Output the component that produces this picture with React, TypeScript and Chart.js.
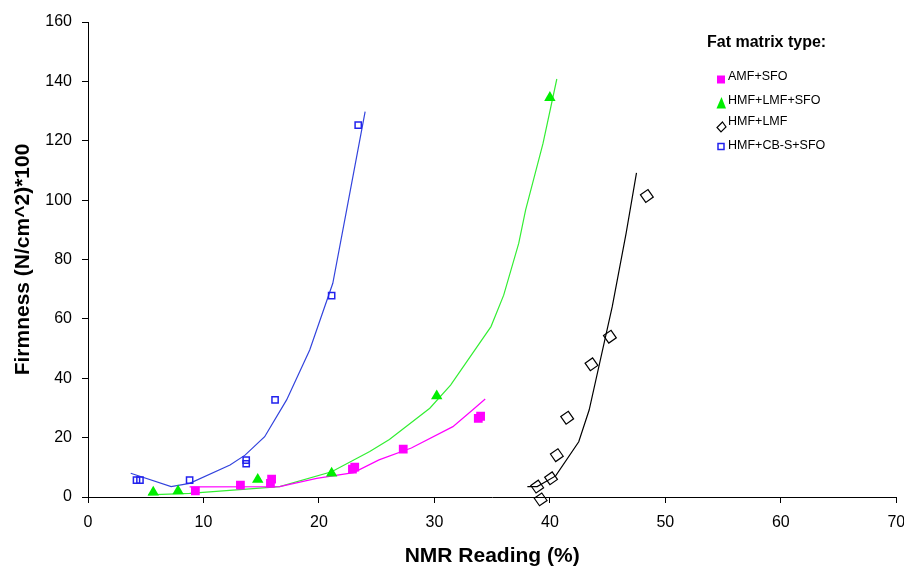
import React, { useEffect, useRef } from 'react';
import { Chart, registerables } from 'chart.js';
Chart.register(...registerables);

// ---- Data ----
const seriesNames = ['AMF+SFO', 'HMF+LMF+SFO', 'HMF+LMF', 'HMF+CB-S+SFO'];

const amfX = [9.3, 13.2, 15.8, 15.9, 22.9, 23.1, 27.3, 33.8, 34.0];
const amfY = [2.1, 4.0, 4.6, 6.0, 9.4, 10.1, 16.1, 26.5, 27.2];

const hlsX = [5.65, 7.8, 14.7, 21.1, 30.2, 40.0];
const hlsY = [1.6, 2.0, 5.9, 8.0, 34.0, 134.5];

const hlX = [38.9, 39.2, 40.1, 40.6, 41.5, 43.6, 45.2, 48.4];
const hlY = [3.5, -0.8, 6.3, 14.1, 26.7, 44.7, 54.0, 101.4];

const cbX = [4.2, 4.5, 8.8, 13.7, 13.7, 16.2, 21.1, 23.4];
const cbY = [5.7, 5.7, 5.7, 11.2, 12.4, 32.7, 67.8, 125.3];

// trend lines
const amfTrendX = [8.8, 16.6, 19.8, 23.0, 25.2, 28.0, 31.6, 33.3, 34.4];
const amfTrendY = [3.4, 3.5, 6.3, 8.2, 12.5, 16.5, 23.7, 29.3, 33.0];

const hlsTrendX = [5.2, 8.8, 16.6, 21.1, 24.4, 26.1, 29.6, 31.4, 34.9, 36.0, 37.3, 37.9, 39.4, 40.6];
const hlsTrendY = [0.7, 1.2, 3.5, 8.5, 15.3, 19.4, 29.9, 37.7, 57.4, 68.0, 85.4, 96.7, 119.0, 140.8];

const hlTrendX = [38.05, 38.9, 40.5, 42.5, 43.4, 45.4, 46.6, 47.5];
const hlTrendY = [3.5, 3.5, 7.1, 18.6, 29.3, 64.1, 88.8, 109.2];

const cbTrendX = [3.7, 7.2, 8.8, 12.3, 13.6, 15.3, 17.2, 19.2, 21.2, 22.4, 24.0];
const cbTrendY = [8.0, 3.5, 4.6, 10.8, 14.1, 20.3, 32.7, 49.5, 72.0, 96.7, 129.8];

const xMin = 0, xMax = 70, xStep = 10;
const yMin = 0, yMax = 160, yStep = 20;

const FONT = "'Liberation Sans', Arial, sans-serif";
const C_MAG = '#ff00ff';
const C_GREEN = '#00ee00';
const C_GREEN_LINE = '#33ee33';
const C_BLACK = '#000000';
const C_BLUE = '#2222ee';
const C_BLUE_LINE = '#3344dd';

const pts = (xs: number[], ys: number[]) => xs.map((x, i) => ({ x, y: ys[i] }));

const legendPlugin = {
  id: 'customLegend',
  afterDraw(chart: any) {
    const ctx = chart.ctx;
    ctx.save();
    ctx.fillStyle = '#000';
    ctx.font = `bold 16px ${FONT}`;
    ctx.textBaseline = 'middle';
    ctx.textAlign = 'left';
    ctx.fillText('Fat matrix type:', 707, 43);
    ctx.font = `12.5px ${FONT}`;
    const rows = [77, 101, 122, 146];
    const markerY = [79.5, 103.5, 127, 146.5];
    const mx = 721;
    rows.forEach((ry, i) => {
      ctx.fillStyle = '#000';
      ctx.fillText(seriesNames[i], 728, ry);
      const my = markerY[i];
      ctx.beginPath();
      if (i === 0) {
        ctx.fillStyle = C_MAG;
        ctx.fillRect(mx - 4, my - 4, 8, 8);
      } else if (i === 1) {
        ctx.fillStyle = C_GREEN;
        ctx.moveTo(mx + 0.5, my - 6.5);
        ctx.lineTo(mx + 5, my + 5);
        ctx.lineTo(mx - 4.5, my + 5);
        ctx.closePath();
        ctx.fill();
      } else if (i === 2) {
        ctx.strokeStyle = C_BLACK;
        ctx.lineWidth = 1.2;
        ctx.moveTo(mx + 1.5, my - 5);
        ctx.lineTo(mx + 5, my);
        ctx.lineTo(mx, my + 5);
        ctx.lineTo(mx - 4, my + 0.5);
        ctx.closePath();
        ctx.stroke();
      } else {
        ctx.strokeStyle = C_BLUE;
        ctx.lineWidth = 1.5;
        ctx.strokeRect(mx - 3, my - 3, 6, 6);
      }
    });
    ctx.restore();
  },
};

export default function App() {
  const ref = useRef<HTMLCanvasElement>(null);
  useEffect(() => {
    const lineDs = (data: any[], color: string) => ({
      data,
      showLine: true,
      borderColor: color,
      borderWidth: 1.2,
      pointRadius: 0,
      fill: false,
      tension: 0,
      order: 2,
    });
    const chart = new Chart(ref.current!, {
      type: 'scatter',
      data: {
        datasets: [
          lineDs(pts(amfTrendX, amfTrendY), C_MAG),
          lineDs(pts(hlsTrendX, hlsTrendY), C_GREEN_LINE),
          lineDs(pts(hlTrendX, hlTrendY), C_BLACK),
          lineDs(pts(cbTrendX, cbTrendY), C_BLUE_LINE),
          {
            label: seriesNames[0],
            data: pts(amfX, amfY),
            pointStyle: 'rect',
            pointRadius: 6.2,
            backgroundColor: C_MAG,
            borderColor: C_MAG,
            borderWidth: 0,
            order: 1,
          },
          {
            label: seriesNames[1],
            data: pts(hlsX, hlsY),
            pointStyle: 'triangle',
            pointRadius: 6.6,
            backgroundColor: C_GREEN,
            borderColor: C_GREEN,
            borderWidth: 0,
            order: 1,
          },
          {
            label: seriesNames[2],
            data: pts(hlX, hlY),
            pointStyle: 'rectRot',
            pointRadius: 6.5,
            pointRotation: 10,
            backgroundColor: 'rgba(0,0,0,0)',
            borderColor: C_BLACK,
            borderWidth: 1.2,
            clip: false,
            order: 1,
          },
          {
            label: seriesNames[3],
            data: pts(cbX, cbY),
            pointStyle: 'rect',
            pointRadius: 4.4,
            backgroundColor: 'rgba(0,0,0,0)',
            borderColor: C_BLUE,
            borderWidth: 1.5,
            order: 1,
          },
        ] as any,
      },
      options: {
        animation: false,
        responsive: false,
        maintainAspectRatio: false,
        layout: { padding: { left: 0, right: 6, top: 22, bottom: 0 } },
        plugins: { legend: { display: false }, tooltip: { enabled: false } },
        scales: {
          x: {
            type: 'linear',
            min: xMin,
            max: xMax,
            ticks: { stepSize: xStep, color: '#000', font: { family: FONT, size: 16 }, padding: 10, maxRotation: 0 },
            grid: { drawOnChartArea: false, drawTicks: true, tickLength: 6, color: '#000', tickColor: '#000' },
            border: { color: '#000', width: 1 },
            title: {
              display: true,
              text: 'NMR Reading (%)',
              color: '#000',
              font: { family: FONT, size: 21, weight: 'bold' },
              padding: { top: 0, bottom: 0 },
            },
            afterFit: (s: any) => { s.height = 72; s.paddingRight = 0; s.paddingLeft = 0; },
          },
          y: {
            type: 'linear',
            min: yMin,
            max: yMax,
            ticks: { stepSize: yStep, color: '#000', font: { family: FONT, size: 16 }, padding: 10 },
            grid: { drawOnChartArea: false, drawTicks: true, tickLength: 6, color: '#000', tickColor: '#000' },
            border: { color: '#000', width: 1 },
            title: {
              display: true,
              text: 'Firmness (N/cm^2)*100',
              color: '#000',
              font: { family: FONT, size: 21, weight: 'bold' },
              padding: { top: 11, bottom: 0 },
            },
            afterFit: (s: any) => { s.width = 88; },
          },
        },
      } as any,
      plugins: [legendPlugin],
    });
    return () => chart.destroy();
  }, []);
  return (
    <div style={{ position: 'fixed', left: 0, top: 0, width: 904, height: 569, background: '#fff' }}>
      <canvas ref={ref} width={904} height={569} style={{ width: 904, height: 569, display: 'block' }} />
    </div>
  );
}
